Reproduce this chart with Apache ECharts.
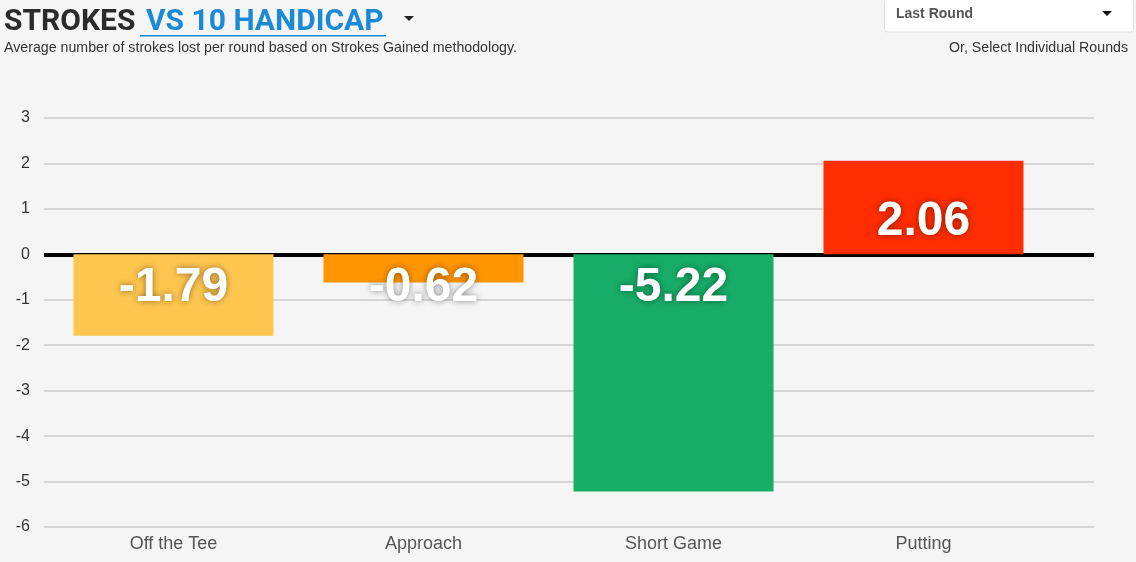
<!DOCTYPE html>
<html><head><meta charset="utf-8">
<script src="https://cdn.jsdelivr.net/npm/echarts@6/dist/echarts.min.js"></script>
<style>html,body{margin:0;padding:0;background:#f5f5f5;}#c{width:1136px;height:562px;}</style>
</head><body><div id="c"></div>
<script>
const categories = ['Off the Tee', 'Approach', 'Short Game', 'Putting'];
const values = [-1.79, -0.62, -5.22, 2.06];
const barColors = ['#fec64e', '#ff9500', '#17ad68', '#ff2d00'];
const yTicks = [-6, -5, -4, -3, -2, -1, 0, 1, 2, 3];

const yMin = yTicks[0], yMax = yTicks[yTicks.length - 1];
const chart = echarts.init(document.getElementById('c'));
chart.setOption({
  backgroundColor: '#f5f5f5',
  animation: false,
  grid: [
    { left: 44, right: 42, top: 118, bottom: 35 },
    { left: 48.5, right: 87.5, top: 118, bottom: 35 }
  ],
  xAxis: [
    { gridIndex: 0, type: 'value', min: 0, max: 1,
      axisLine: { show: true, onZero: true, lineStyle: { color: '#000', width: 4, cap: 'butt' } },
      axisTick: { show: false }, axisLabel: { show: false }, splitLine: { show: false } },
    { gridIndex: 1, type: 'category', data: categories, position: 'bottom',
      axisLine: { show: false, onZero: false }, axisTick: { show: false },
      axisLabel: { color: '#555', fontSize: 18, fontFamily: 'Liberation Sans, Arial', margin: 8 } }
  ],
  yAxis: [
    { gridIndex: 0, type: 'value', min: yMin, max: yMax, interval: 1,
      axisLine: { show: false }, axisTick: { show: false },
      axisLabel: { color: '#333', fontSize: 16, fontFamily: 'Liberation Sans, Arial', margin: 14 },
      splitLine: { lineStyle: { color: '#cbcbcb', width: 1.5 } } },
    { gridIndex: 1, type: 'value', min: yMin, max: yMax, interval: 1,
      axisLine: { show: false }, axisTick: { show: false }, axisLabel: { show: false }, splitLine: { show: false } }
  ],
  series: [{
    type: 'bar',
    xAxisIndex: 1, yAxisIndex: 1,
    barWidth: '80%',
    z: 1,
    data: values.map((v, i) => ({
      value: v,
      itemStyle: { color: barColors[i] },
      label: { position: v < 0 ? 'insideTop' : 'insideBottom', distance: v < 0 ? 9 : 9 }
    })),
    label: {
      show: true, color: '#fff', fontSize: 48, fontWeight: 'bold', fontFamily: 'Liberation Sans, Arial',
      textShadowColor: 'rgba(0,0,0,0.45)', textShadowBlur: 6,
      formatter: p => p.value.toFixed(2)
    }
  }],
  graphic: [
    { type: 'text', left: 4, top: 7, style: { text: 'STROKES', fill: '#2b2b2b', font: 'bold 30px "Roboto", "Liberation Sans", sans-serif' } },
    { type: 'text', left: 146, top: 7, style: { text: 'VS 10 HANDICAP', fill: '#1b8ad6', font: 'bold 30px "Roboto", "Liberation Sans", sans-serif' } },
    { type: 'rect', shape: { x: 140, y: 35, width: 246, height: 1.5 }, style: { fill: '#1b8ad6' } },
    { type: 'polygon', shape: { points: [[404, 16], [414, 16], [409, 21]] }, style: { fill: '#222' } },
    { type: 'text', left: 4, top: 41, style: { text: 'Average number of strokes lost per round based on Strokes Gained methodology.', fill: '#333', font: '14.2px "Liberation Sans", Arial, sans-serif' } },
    { type: 'rect', shape: { x: 884.5, y: -1, width: 249, height: 33, r: 3 }, style: { fill: '#fff', stroke: '#e2e2e2', lineWidth: 1 } },
    { type: 'text', left: 896, top: 7, style: { text: 'Last Round', fill: '#555', font: 'bold 14px "Liberation Sans", Arial, sans-serif' } },
    { type: 'polygon', shape: { points: [[1102, 11], [1112, 11], [1107, 16]] }, style: { fill: '#111' } },
    { type: 'text', right: 8, top: 41, style: { text: 'Or, Select Individual Rounds', fill: '#333', font: '14.2px "Liberation Sans", Arial, sans-serif' } }
  ]
});
</script></body></html>
